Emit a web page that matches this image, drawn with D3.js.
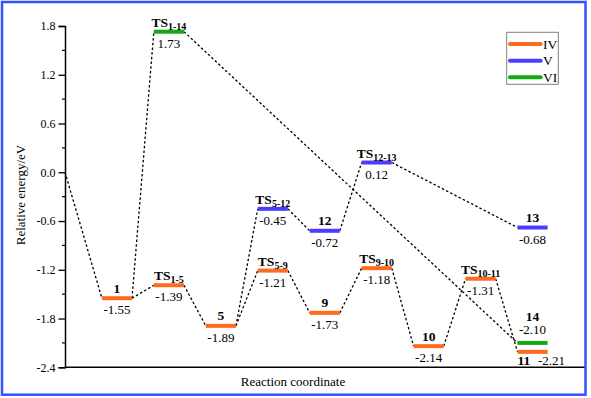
<!DOCTYPE html>
<html>
<head>
  <meta charset="UTF-8">
  <style>
    body { margin: 0; background: #fff; }
    svg text { font-family: "Liberation Serif", "Times New Roman", Times, serif; }
  </style>
</head>
<body>
  <div id="chart"></div>
  <script src="https://d3js.org/d3.v7.min.js"></script>
  <script>
    // levels of the energy profile
    const names    = ["1", "TS1-5", "TS1-14", "5", "TS5-12", "TS5-9", "12", "9", "TS12-13", "TS9-10", "10", "TS10-11", "13", "14", "11"];
    const coord    = [1, 2, 2, 3, 4, 4, 5, 5, 6, 6, 7, 8, 9, 9, 9];
    const energies = [-1.55, -1.39, 1.73, -1.89, -0.45, -1.21, -0.72, -1.73, 0.12, -1.18, -2.14, -1.31, -0.68, -2.10, -2.21];
    const pathway  = ["IV", "IV", "VI", "IV", "V", "IV", "V", "IV", "V", "IV", "IV", "IV", "V", "VI", "IV"];
    const startEnergy = 0.0;

    // dashed connections: from -> to
    const linkFrom = ["start", "1", "1", "TS1-14", "TS1-5", "5", "5", "TS5-12", "12", "TS12-13", "TS5-9", "9", "TS9-10", "10", "TS10-11"];
    const linkTo   = ["1", "TS1-5", "TS1-14", "14", "5", "TS5-12", "TS5-9", "12", "TS12-13", "13", "9", "TS9-10", "10", "TS10-11", "11"];

    const series = ["IV", "V", "VI"];
    const seriesColors = ["#ff6a1f", "#4b3cff", "#12a812"];
    const yTicks = [1.8, 1.2, 0.6, 0.0, -0.6, -1.2, -1.8, -2.4];
    const yMinor = [1.5, 0.9, 0.3, -0.3, -0.9, -1.5, -2.1];

    const width = 591, height = 398;
    const halfBar = 0.29;
    const fs = 13;

    const x = d3.scaleLinear().domain([0, 10]).range([65, 584.5]);
    const y = d3.scaleLinear().domain([-2.4, 1.8]).range([367.3, 26]);
    const color = d3.scaleOrdinal().domain(series).range(seriesColors);

    const svg = d3.select("#chart").append("svg")
      .attr("width", width)
      .attr("height", height)
      .attr("font-family", "Liberation Serif, serif");

    svg.append("rect")
      .attr("x", 2).attr("y", 2)
      .attr("width", 583.5).attr("height", 392.7)
      .attr("fill", "#fff")
      .attr("stroke", "#3352ff")
      .attr("stroke-width", 2.5);

    const levels = names.map((n, i) => ({ name: n, pos: coord[i], e: energies[i], s: pathway[i] }));
    const byName = {};
    levels.forEach(d => byName[d.name] = d);
    byName["start"] = { name: "start", pos: -halfBar, e: startEnergy };

    // dashed connectors
    const links = linkFrom.map((f, i) => ({ a: byName[f], b: byName[linkTo[i]] }));
    svg.append("g").selectAll("line")
      .data(links)
      .enter().append("line")
      .attr("x1", d => x(d.a.pos + halfBar))
      .attr("y1", d => y(d.a.e))
      .attr("x2", d => x(d.b.pos - halfBar))
      .attr("y2", d => y(d.b.e))
      .attr("stroke", "#000")
      .attr("stroke-width", 1.3)
      .attr("stroke-dasharray", "2.5,2.2");

    // axes
    const yAxis = d3.axisLeft(y).tickValues(yTicks).tickSize(6.5).tickPadding(3)
      .tickFormat(d3.format(".1f"));
    const gy = svg.append("g").attr("transform", "translate(65,0)").call(yAxis);
    gy.attr("font-family", null);
    gy.select(".domain").attr("stroke-width", 1.5);
    gy.selectAll(".tick line").attr("stroke-width", 1.3);
    gy.selectAll(".tick text")
      .attr("font-size", 12)
      .text(d => d3.format(".1f")(d).replace("−", "-"));

    svg.append("g").selectAll("line")
      .data(yMinor)
      .enter().append("line")
      .attr("x1", 62).attr("x2", 65)
      .attr("y1", d => y(d)).attr("y2", d => y(d))
      .attr("stroke", "#000").attr("stroke-width", 1.2);

    svg.append("line")
      .attr("x1", 65).attr("x2", 584.5)
      .attr("y1", y(-2.4)).attr("y2", y(-2.4))
      .attr("stroke", "#000").attr("stroke-width", 1.5);

    svg.append("text")
      .attr("x", 293).attr("y", 386)
      .attr("text-anchor", "middle")
      .attr("font-size", 13)
      .text("Reaction coordinate");

    svg.append("text")
      .attr("transform", "translate(24.5,195) rotate(-90)")
      .attr("text-anchor", "middle")
      .attr("font-size", 13)
      .text("Relative energy/eV");

    // level bars
    svg.append("g").selectAll("line")
      .data(levels)
      .enter().append("line")
      .attr("x1", d => x(d.pos - halfBar))
      .attr("x2", d => x(d.pos + halfBar))
      .attr("y1", d => y(d.e))
      .attr("y2", d => y(d.e))
      .attr("stroke", d => color(d.s))
      .attr("stroke-width", 4);

    // labels
    function nameLabel(g, d, xx, yy, anchor) {
      const t = g.append("text")
        .attr("x", xx).attr("y", yy)
        .attr("text-anchor", anchor)
        .attr("font-weight", "bold")
        .attr("font-size", 13.5);
      if (d.name.startsWith("TS")) {
        t.append("tspan").text("TS");
        t.append("tspan").attr("dy", 3).attr("font-size", 10).text(d.name.slice(2));
      } else {
        t.text(d.name);
      }
    }
    const fmt = v => v.toFixed(2).replace("−", "-");
    const lab = svg.append("g");
    levels.forEach(d => {
      const cx = x(d.pos), by = y(d.e);
      if (d.name === "14") {
        nameLabel(lab, d, cx, by - 22, "middle");
        lab.append("text").attr("x", cx).attr("y", by - 8.5)
          .attr("text-anchor", "middle").attr("font-size", fs).text(fmt(d.e));
      } else if (d.name === "11") {
        nameLabel(lab, d, x(d.pos - halfBar), by + 13.5, "start");
        lab.append("text").attr("x", x(d.pos - halfBar) + 20.5).attr("y", by + 13.5)
          .attr("text-anchor", "start").attr("font-size", fs).text(fmt(d.e));
      } else {
        nameLabel(lab, d, cx, by - (d.name.startsWith("TS") ? 5 : 5.5), "middle");
        lab.append("text").attr("x", cx).attr("y", by + 16)
          .attr("text-anchor", "middle").attr("font-size", fs).text(fmt(d.e));
      }
    });

    // legend
    const lg = svg.append("g");
    lg.append("rect")
      .attr("x", 506.7).attr("y", 32.3)
      .attr("width", 51.6).attr("height", 52)
      .attr("fill", "#fff")
      .attr("stroke", "#808080")
      .attr("stroke-width", 1);
    series.forEach((s, i) => {
      const ly = 44 + i * 16.65;
      lg.append("line")
        .attr("x1", 510).attr("x2", 540.7)
        .attr("y1", ly).attr("y2", ly)
        .attr("stroke", color(s))
        .attr("stroke-width", 4)
        .attr("stroke-linecap", "round");
      lg.append("text")
        .attr("x", 543).attr("y", ly + 4.5)
        .attr("font-size", 13.5)
        .text(s);
    });
  </script>
</body>
</html>
